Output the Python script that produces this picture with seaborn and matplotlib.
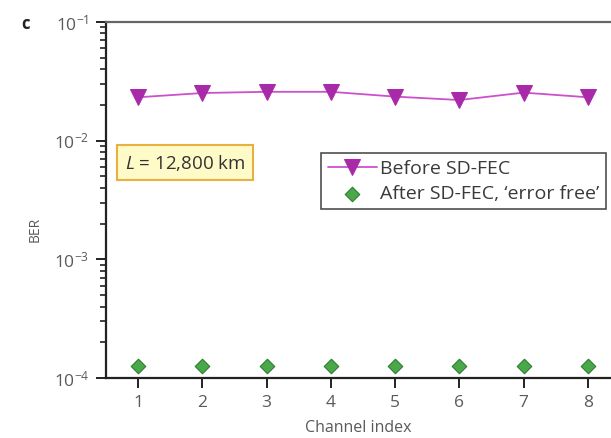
import numpy as np
import pandas as pd
import matplotlib
matplotlib.use('Agg')
import matplotlib.pyplot as plt
import seaborn as sns

# Datos
channels = [1, 2, 3, 4, 5, 6, 7, 8]
ber_before = [0.0232, 0.0252, 0.0258, 0.0258, 0.0235, 0.0220, 0.0254, 0.0232]
ber_after = [1.25e-4] * 8

df = pd.DataFrame({'channel': channels, 'before': ber_before, 'after': ber_after})

sns.set_style('ticks')
plt.rcParams['font.family'] = ['Open Sans', 'DejaVu Sans']
plt.rcParams['mathtext.fontset'] = 'custom'
plt.rcParams['mathtext.rm'] = 'Open Sans'
plt.rcParams['mathtext.it'] = 'Open Sans:italic'

grey = '#5a5a5a'
fig = plt.figure(figsize=(6.11, 4.38), dpi=100)
ax = fig.add_axes([0.1735, 0.137, 0.8265, 0.8128])

sns.lineplot(data=df, x='channel', y='before', ax=ax, color='#cc50cc', lw=1.3,
             marker='v', markersize=11, markerfacecolor='#a82aa8',
             markeredgecolor='#a82aa8', label='Before SD-FEC')
sns.scatterplot(data=df, x='channel', y='after', ax=ax, marker='D', s=55,
                color='#4aa84a', edgecolor='#2e7d32', linewidth=0.8,
                label="After SD-FEC, \u2018error free\u2019", zorder=3)

ax.set_yscale('log')
ax.set_ylim(1e-4, 1e-1)
ax.set_xlim(0.5, 8.36)
ax.set_xticks(channels)
ax.set_xlabel('Channel index', color=grey, fontsize=11.5, labelpad=7)
ax.set_ylabel('BER', color=grey, fontsize=10)
ax.yaxis.set_label_coords(-0.125, 0.416)

ax.spines['right'].set_visible(False)
for s in ['left', 'bottom']:
    ax.spines[s].set_color('#222222')
    ax.spines[s].set_linewidth(1.6)
ax.spines['top'].set_color('#666666')
ax.spines['top'].set_linewidth(1.6)
ax.tick_params(axis='both', which='major', direction='out', length=7, width=1.4,
               colors='#222222', labelcolor=grey, labelsize=12.5, pad=5)
ax.tick_params(axis='y', which='minor', direction='out', length=4.5, width=1.2,
               colors='#222222')

leg = ax.legend(loc='upper left', bbox_to_anchor=(0.426, 0.632), frameon=True,
                fancybox=False, fontsize=14, handlelength=2.5,
                borderpad=0.35, labelspacing=0.35, handletextpad=0.2,
                borderaxespad=0)
leg.get_frame().set_edgecolor('#222222')
leg.get_frame().set_linewidth(1.2)
for t in leg.get_texts():
    t.set_color('#3a3a3a')

ax.text(0.156, 0.604, r'$\mathit{L}$ = 12,800 km', transform=ax.transAxes,
        ha='center', va='center', fontsize=13.5, color='#333333',
        bbox=dict(boxstyle='square,pad=0.4', facecolor='#fffbc8',
                  edgecolor='#e8b040', linewidth=1.5))

fig.text(0.042, 0.945, 'c', fontsize=12, fontweight='bold', color='#222222',
         ha='center', va='center')

fig.savefig('out.png', dpi=100)
